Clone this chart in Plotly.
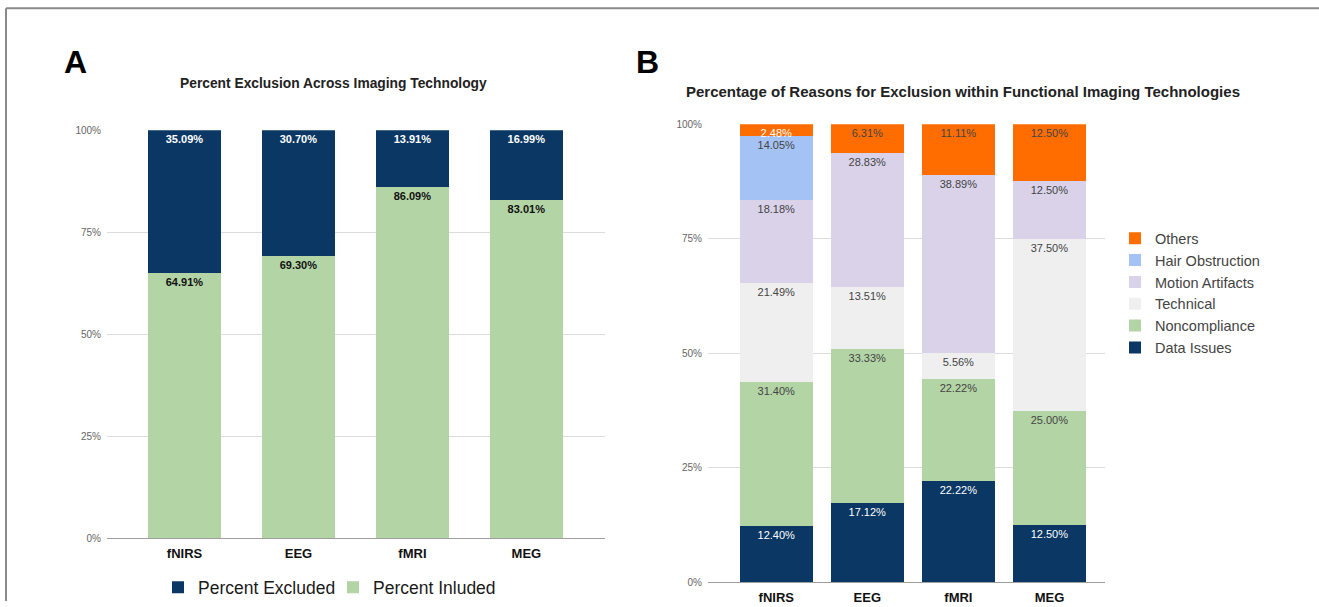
import plotly.graph_objects as go

categories = ["fNIRS", "EEG", "fMRI", "MEG"]

# Panel A
excluded = [35.09, 30.70, 13.91, 16.99]
included = [64.91, 69.30, 86.09, 83.01]

# Panel B
data_issues = [12.40, 17.12, 22.22, 12.50]
noncompliance = [31.40, 33.33, 22.22, 25.00]
technical = [21.49, 13.51, 5.56, 37.50]
motion = [18.18, 28.83, 38.89, 12.50]
hair = [14.05, 0, 0, 0]
others = [2.48, 6.31, 11.11, 12.50]

y_ticks = [0, 25, 50, 75, 100]
y_tick_labels = ["0%", "25%", "50%", "75%", "100%"]

W, H = 1319, 607
NAVY = "#0a3763"
GREEN = "#b3d4a5"
ORANGE = "#ff6d01"
LBLUE = "#a4c2f4"
LAV = "#d9d2e9"
LGRAY = "#efefef"
FONT = "Liberation Sans, Arial, sans-serif"


def px_x(p):
    return p / W


def px_y(p):
    # target screen row -> paper fraction (compensates the viewer's vertical scaling)
    q = (p - 5.8) / 0.98
    return 1 - q / H


def fmt(vals):
    return [f"{v:.2f}%" if v > 0 else "" for v in vals]


fig = go.Figure()

# ---- Panel A
for name, vals, col, tcol, rank in [
    ("Percent Inluded", included, GREEN, "#111111", 2),
    ("Percent Excluded", excluded, NAVY, "#ffffff", 1),
]:
    fig.add_trace(go.Bar(
        x=categories, y=vals, name=name, marker=dict(color=col, line=dict(width=0)),
        width=0.64, xaxis="x", yaxis="y", legend="legend", legendrank=rank,
        text=fmt(vals), texttemplate="%{text}", textposition="inside",
        insidetextanchor="end", textangle=0,
        textfont=dict(family=FONT, size=11, color=tcol, weight="bold"),
        hoverinfo="skip",
    ))

# ---- Panel B
for name, vals, col, tcol in [
    ("Data Issues", data_issues, NAVY, "#ffffff"),
    ("Noncompliance", noncompliance, GREEN, "#444444"),
    ("Technical", technical, LGRAY, "#444444"),
    ("Motion Artifacts", motion, LAV, "#444444"),
    ("Hair Obstruction", hair, LBLUE, "#444444"),
    ("Others", others, ORANGE, "#444444"),
]:
    tc = [tcol] * len(vals)
    if name == "Others":
        tc = ["#ffffff", "#444444", "#444444", "#444444"]
    fig.add_trace(go.Bar(
        x=categories, y=vals, name=name, marker=dict(color=col, line=dict(width=0)),
        width=0.8, xaxis="x2", yaxis="y2", legend="legend2",
        text=fmt(vals), texttemplate="%{text}", textposition="inside",
        insidetextanchor="end", textangle=0,
        textfont=dict(family=FONT, size=11, color=tc),
        hoverinfo="skip",
    ))

axis_common = dict(showgrid=False, zeroline=False, showline=True, linecolor="#9e9e9e",
                   linewidth=1, ticks="", ticklabelstandoff=3,
                   tickfont=dict(family=FONT, size=13, color="#111111", weight="bold"),
                   fixedrange=True)
yaxis_common = dict(range=[0, 100], tickmode="array", tickvals=y_ticks, ticktext=y_tick_labels,
                    showgrid=True, gridcolor="#dcdcdc", gridwidth=1, zeroline=False,
                    showline=False, tickfont=dict(family=FONT, size=10, color="#666666"),
                    ticks="", ticklabelstandoff=5, fixedrange=True)

fig.update_layout(
    width=W, height=H,
    margin=dict(l=0, r=0, t=0, b=0),
    paper_bgcolor="white", plot_bgcolor="white",
    barmode="stack", barnorm="percent",
    uniformtext=dict(minsize=10, mode="show"),
    font=dict(family=FONT),
    xaxis=dict(domain=[px_x(107), px_x(605)], range=[-0.68, 3.69], anchor="y", **axis_common),
    yaxis=dict(domain=[px_y(538), px_y(130)], anchor="x", **yaxis_common),
    xaxis2=dict(domain=[px_x(708), px_x(1105)], range=[-0.75, 3.61], anchor="y2", **axis_common),
    yaxis2=dict(domain=[px_y(582), px_y(124)], anchor="x2", **yaxis_common),
    legend=dict(orientation="h", x=px_x(333), y=px_y(587), xanchor="center", yanchor="middle",
                font=dict(family=FONT, size=17.5, color="#1a1a1a"), traceorder="normal",
                entrywidth=130, entrywidthmode="pixels",
                bgcolor="rgba(0,0,0,0)", itemclick=False, itemdoubleclick=False),
    legend2=dict(orientation="v", x=px_x(1115), y=px_y(222), xanchor="left", yanchor="top",
                 font=dict(family=FONT, size=14.5, color="#444444"), traceorder="reversed",
                 bgcolor="rgba(0,0,0,0)", itemclick=False, itemdoubleclick=False),
    showlegend=True,
)

fig.add_annotation(text="<b>A</b>", x=px_x(62), y=px_y(62), xref="paper", yref="paper",
                   xanchor="left", yanchor="middle", showarrow=False,
                   font=dict(family=FONT, size=32, color="#000000"))
fig.add_annotation(text="<b>B</b>", x=px_x(634), y=px_y(62), xref="paper", yref="paper",
                   xanchor="left", yanchor="middle", showarrow=False,
                   font=dict(family=FONT, size=32, color="#000000"))
fig.add_annotation(text="<b>Percent Exclusion Across Imaging Technology</b>", x=px_x(333), y=px_y(83),
                   xref="paper", yref="paper", xanchor="center", yanchor="middle", showarrow=False,
                   font=dict(family=FONT, size=13.8, color="#222222"))
fig.add_annotation(text="<b>Percentage of Reasons for Exclusion within Functional Imaging Technologies</b>",
                   x=px_x(963), y=px_y(91), xref="paper", yref="paper", xanchor="center",
                   yanchor="middle", showarrow=False, font=dict(family=FONT, size=15, color="#222222"))

# frame lines (top and left)
fig.add_shape(type="line", xref="paper", yref="paper", x0=px_x(6), x1=1, y0=px_y(8), y1=px_y(8),
              line=dict(color="#8a8a8a", width=2))
fig.add_shape(type="line", xref="paper", yref="paper", x0=px_x(6), x1=px_x(6), y0=0, y1=px_y(8),
              line=dict(color="#8a8a8a", width=2))

fig.write_html(
    "out.html",
    config={"displayModeBar": False},
    post_script=(
        "var de=document.documentElement, b=document.body;"
        "de.style.margin='0';de.style.padding='0';de.style.overflow='hidden';"
        "b.style.margin='0';b.style.padding='0';b.style.overflow='hidden';"
    ),
)
